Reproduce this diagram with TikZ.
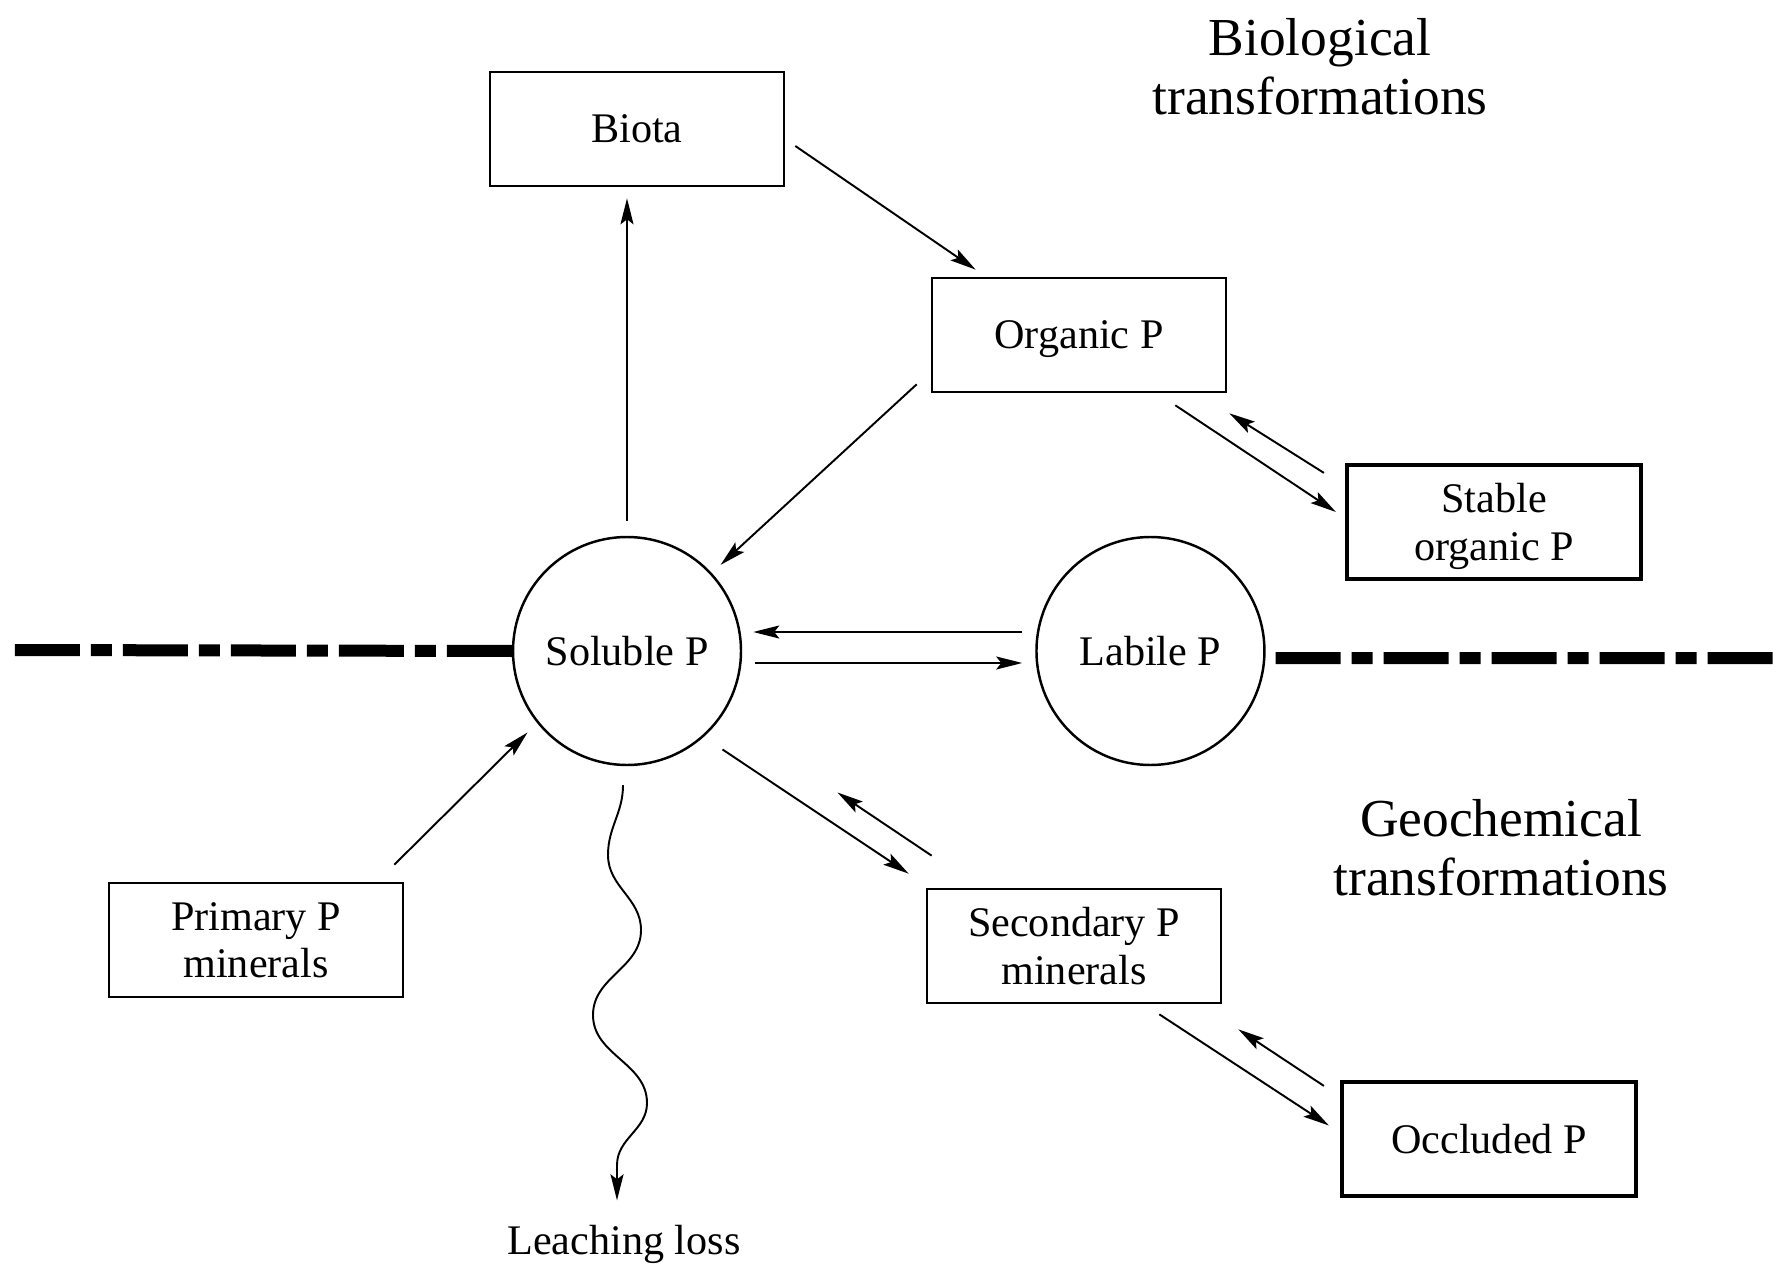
\documentclass[tikz,border=0pt]{standalone}
\usepackage{fontspec}
\setmainfont{Liberation Serif}
\usetikzlibrary{positioning,arrows.meta,calc}
\tikzstyle{pbox}=[rectangle, draw=black, line width=0.75pt, minimum width=29.4mm, minimum height=11.4mm, inner sep=2pt, text depth=0pt, align=center, font=\fontsize{12pt}{13.6pt}\selectfont]
\tikzstyle{sbox}=[pbox, line width=1.2pt]
\tikzstyle{pool}=[circle, draw=black, line width=0.7pt, minimum size=22.8mm, inner sep=0pt, font=\fontsize{12pt}{13.6pt}\selectfont]
\tikzstyle{headtxt}=[align=center, inner sep=0pt, font=\fontsize{15.2pt}{16.8pt}\selectfont]
\tikzstyle{pline}=[-{Stealth[length=2.6mm,width=1.3mm,inset=0.5mm]}, line width=0.55pt]
\tikzstyle{bound}=[line width=1.2mm, dash pattern=on 6.5mm off 1.1mm on 2.1mm off 1.1mm]

\begin{document}
\begin{tikzpicture}[x=0.1mm, y=-0.1mm, node distance=0mm]
\useasboundingbox (0,0) rectangle (1786,1264);
\node (BIOTA) [pbox] at (637,129) {Biota};
\node (ORGP) [pbox] at (1079,335) {Organic P};
\node (STABLE) [sbox] at (1494,522) {Stable\\organic P};
\node (SOLP) [pool] at (627,651) {Soluble P};
\node (LABP) [pool, right=29.3mm of SOLP] {Labile P};
\node (PRIM) [pbox] at (256,940) {Primary P\\minerals};
\node (SEC) [pbox] at (1074,946) {Secondary P\\minerals};
\node (OCCL) [sbox] at (1489,1139) {Occluded P};
\node (LEACH) [anchor=base, font=\fontsize{12pt}{13.6pt}\selectfont] at (624,1254) {Leaching loss};
\node (BIOTXT) [headtxt] at (1320,67) {Biological\\transformations};
\node (GEOTXT) [headtxt] at (1501,848) {Geochemical\\transformations};
\coordinate (LEFTEND) at (12,650);
\coordinate (RIGHTEND) at (1773,658);
% boundary between the two domains
\draw[bound] (SOLP.west) -- (LEFTEND);
\draw[bound] ([xshift=1mm,yshift=-0.7mm]LABP.east) -- (RIGHTEND);
% biological cycle
\draw[pline, shorten <=1.5mm, shorten >=1.1mm] (SOLP.north) -- (SOLP.north |- BIOTA.south);
\draw[pline] ([xshift=1mm,yshift=-1.7mm]BIOTA.east) -- ([xshift=4.5mm,yshift=0.7mm]ORGP.north west);
\draw[pline, shorten >=1.2mm] ([xshift=-1.4mm,yshift=0.9mm]ORGP.south west) -- (SOLP);
\draw[pline] ([xshift=-5.2mm,yshift=-1.2mm]ORGP.south east) -- ([xshift=-0.9mm,yshift=1mm]STABLE.west);
\draw[pline] ([xshift=-2.1mm,yshift=-1mm]STABLE.north west) -- ([xshift=0.2mm,yshift=-2mm]ORGP.south east);
% exchange with the labile pool
\draw[pline] ([xshift=-1.3mm,yshift=1.9mm]LABP.west) -- ([xshift=1.1mm,yshift=1.9mm]SOLP.east);
\draw[pline] ([xshift=1.3mm,yshift=-1.2mm]SOLP.east) -- ([xshift=-1.3mm,yshift=-1.2mm]LABP.west);
% geochemical cycle
\draw[pline] ([xshift=-1mm,yshift=1.7mm]PRIM.north east) -- ([xshift=-1.8mm]SOLP.south west);
\draw[pline] ([xshift=1.4mm,yshift=-1.7mm]SOLP.south east) -- ([xshift=-1.7mm,yshift=1.4mm]SEC.north west);
\draw[pline] ([xshift=0.6mm,yshift=3.2mm]SEC.north west) -- ([xshift=12.9mm,yshift=-6mm]SOLP.south east);
\draw[pline] ([xshift=-6.3mm,yshift=-1mm]SEC.south east) -- ([xshift=-1.1mm,yshift=1.35mm]OCCL.west);
\draw[pline] ([xshift=-1.6mm,yshift=-0.6mm]OCCL.north west) -- ([xshift=1.6mm,yshift=-2.5mm]SEC.south east);
% leaching
\draw[pline, shorten >=1.2mm] ([xshift=-0.4mm,yshift=-1.9mm]SOLP.south) to[out=-90,in=90] (608,855) to[out=-90,in=90] (641,930) to[out=-90,in=90] (593,1015) to[out=-90,in=90] (647,1103) to[out=-90,in=90] (617,1165) -- ([xshift=-0.7mm]LEACH.north);
\end{tikzpicture}
\end{document}
